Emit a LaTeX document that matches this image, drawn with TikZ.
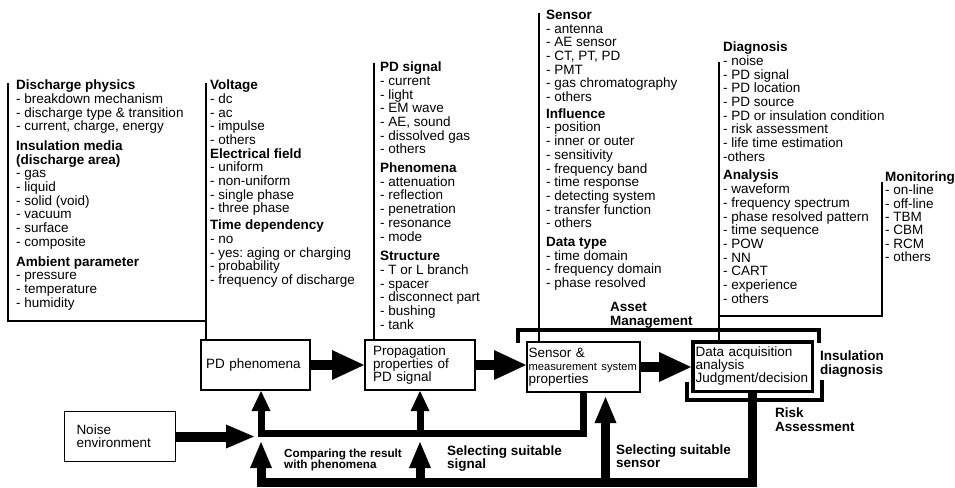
\documentclass[tikz,border=0pt]{standalone}
\usepackage{fontspec}
\setmainfont{Liberation Sans}
\usetikzlibrary{arrows.meta,calc}
\frenchspacing

\tikzset{
  panel/.style={line width=1.1pt},
  box/.style={draw, line width=2pt, fill=white, inner sep=0pt, align=left,
    font=\fontsize{13.5}{13}\selectfont},
  listtext/.style={anchor=north west, inner sep=0pt, align=left,
    font=\fontsize{13.5}{13.7}\selectfont},
  lab/.style={anchor=north west, inner sep=0pt, align=left,
    font=\fontsize{13.5}{14}\selectfont\bfseries},
  bracket/.style={line width=3.5pt, line cap=butt, line join=miter},
  bigarrow/.style={line width=10pt, -{Triangle[length=32pt,width=30pt,line width=0pt]}},
  noisearrow/.style={line width=10pt, -{Triangle[length=28pt,width=24pt,line width=0pt]}},
  uparrow/.style={line width=7pt, line join=miter, -{Triangle[length=20pt,width=19pt,line width=0pt]}},
  lowarrow/.style={line width=9pt, line join=miter, -{Triangle[length=26pt,width=22pt,line width=0pt]}}
}
\newcommand{\hd}[1]{\textbf{#1}}

\begin{document}
\begin{tikzpicture}[x=1pt,y=-1pt]
  \useasboundingbox (0,0) rectangle (955,487);

  % lists of influencing factors
  \node[listtext] (phys) at (16,79.7) {\hd{Discharge physics}\\- breakdown mechanism\\- discharge type \& transition\\- current, charge, energy\\[6pt]
    \hd{Insulation media}\\\hd{(discharge area)}\\- gas\\- liquid\\- solid (void)\\- vacuum\\- surface\\- composite\\[6pt]
    \hd{Ambient parameter}\\- pressure\\- temperature\\- humidity};
  \node[listtext] (volt) at (210,79.7) {\hd{Voltage}\\- dc\\- ac\\- impulse\\- others\\
    \hd{Electrical field}\\- uniform\\- non-uniform\\- single phase\\- three phase\\[3pt]
    \hd{Time dependency}\\- no\\- yes: aging or charging\\- probability\\- frequency of discharge};
  \node[listtext] (sig) at (380,61.7) {\hd{PD signal}\\- current\\- light\\- EM wave\\- AE, sound\\- dissolved gas\\- others\\[5pt]
    \hd{Phenomena}\\- attenuation\\- reflection\\- penetration\\- resonance\\- mode\\[6pt]
    \hd{Structure}\\- T or L branch\\- spacer\\- disconnect part\\- bushing\\- tank};
  \node[listtext] (sensor) at (546,9.7) {\hd{Sensor}\\- antenna\\- AE sensor\\- CT, PT, PD\\- PMT\\- gas chromatography\\- others\\[3pt]
    \hd{Influence}\\- position\\- inner or outer\\- sensitivity\\- frequency band\\- time response\\- detecting system\\- transfer function\\- others\\[5pt]
    \hd{Data type}\\- time domain\\- frequency domain\\- phase resolved};
  \node[listtext] (diag) at (723,41.7) {\hd{Diagnosis}\\- noise\\- PD signal\\- PD location\\- PD source\\- PD or insulation condition\\- risk assessment\\- life time estimation\\-others\\[5pt]
    \hd{Analysis}\\- waveform\\- frequency spectrum\\- phase resolved pattern\\- time sequence\\- POW\\- NN\\- CART\\- experience\\- others};
  \node[listtext, font=\fontsize{13.5}{13.3}\selectfont] (moni) at (885,171.7) {\hd{Monitoring}\\- on-line\\- off-line\\- TBM\\- CBM\\- RCM\\- others};

  % main chain
  \node[box, minimum width=109pt, minimum height=50pt, text width=99pt] (pdph) at (255.5,365) {PD phenomena};
  \node[box, minimum width=110pt, minimum height=50pt, text width=94pt] (prop) at (420,365) {Propagation\\properties of\\PD signal};
  \node[box, minimum width=113pt, minimum height=50pt, text width=110pt] (sens) at (583.5,367)
    {Sensor \&\\\mbox{\fontsize{11.2}{13}\selectfont measurement system}\\properties};
  \node[box, line width=3.5pt, minimum width=119.5pt, minimum height=49.5pt, text width=114pt] (data) at (752.5,366.5)
    {Data acquisition\\analysis\\Judgment/decision};
  \node[box, line width=1.3pt, minimum width=111pt, minimum height=50pt, text width=87pt] (noise) at (120,436.5) {Noise\\environment};

  % frames of the lists
  \coordinate (v1) at (206,83);
  \coordinate (v2) at (374,63);
  \coordinate (v3) at (539,13);
  \coordinate (v4) at (719,62);
  \coordinate (v5) at (882,182);
  \draw[panel] (8,83) |- (206,321);
  \draw[panel] (v1) -- (v1 |- pdph.north);
  \draw[panel] (v2) -- (v2 |- prop.north);
  \draw[panel] (v3) -- (v3 |- sens.north);
  \draw[panel] (v4) -- (v4 |- data.north);
  \draw[panel] (v5) |- (719,316);

  % brackets
  \draw[bracket] (518,343) |- (819,330) -- (819,343);
  \draw[bracket] (687,382) |- (822,400) -- (822,380);

  % forward arrows
  \foreach \a/\b in {pdph/prop,prop/sens,sens/data}
    \draw[bigarrow] (\a.east) -- (\a.east -| \b.west);

  % feedback
  \coordinate (jn) at (261,433);
  \coordinate (jtip) at (261,442);
  \coordinate (low) at (261,482);
  \coordinate (ntip) at (254,436.5);
  \coordinate (stip) at ($(sens.south)+(22,4)$);
  \draw[noisearrow] (noise.east) -- (noise.east -| ntip);
  \draw[uparrow] (sens.south) |- (jn) -- (jn |- pdph.south);
  \draw[uparrow] (prop.south |- jn) -- (prop.south);
  \draw[lowarrow] (data.south) |- (low) -- (jtip);
  \draw[lowarrow] (prop.south |- low) -- (prop.south |- jtip);
  \draw[lowarrow] (stip |- low) -- (stip);

  % labels
  \node[lab] (asset) at (610,301.7) {Asset\\Management};
  \node[lab] (insul) at (820,350.7) {Insulation\\diagnosis};
  \node[lab] (risk) at (775,407.7) {Risk\\Assessment};
  \node[lab, font=\fontsize{11.7}{11}\selectfont\bfseries] (cmp) at (284,448.4) {Comparing the result\\with phenomena};
  \node[lab, font=\fontsize{13.5}{13}\selectfont\bfseries] (selsig) at (447,445.7) {Selecting suitable\\signal};
  \node[lab, font=\fontsize{13.5}{13}\selectfont\bfseries] (selsen) at (616,444.7) {Selecting suitable\\sensor};
\end{tikzpicture}
\end{document}
